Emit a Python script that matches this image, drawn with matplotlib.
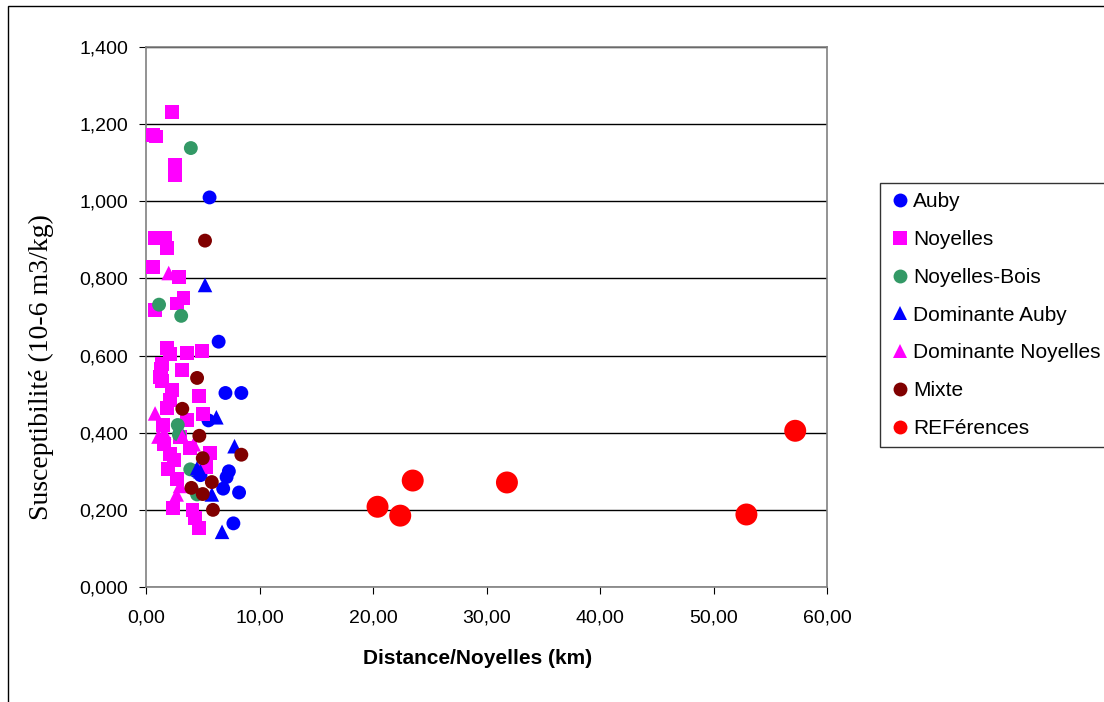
import matplotlib
matplotlib.use("Agg")
import matplotlib.pyplot as plt
from matplotlib.lines import Line2D
from matplotlib.patches import Rectangle

# ---------------- data ----------------
auby_x = [5.6, 6.4, 7.0, 8.4, 5.5, 7.3, 7.1, 6.8, 8.2, 7.7, 4.8, 4.4]
auby_y = [1.010, 0.636, 0.503, 0.503, 0.432, 0.300, 0.285, 0.255, 0.245, 0.165, 0.290, 0.300]

noy_x = [2.3, 0.6, 0.9, 2.55, 2.55, 0.8, 1.65, 1.85, 0.6, 2.9, 3.3, 2.7, 0.8, 1.85, 2.1,
         3.6, 4.9, 1.4, 1.3, 3.2, 1.2, 1.4, 2.3, 4.7, 2.1, 5.0, 1.85, 1.5, 3.6, 1.6, 2.1,
         3.9, 5.6, 5.3, 1.9, 2.7, 2.4, 4.1, 4.3, 4.7, 3.0, 2.5]
noy_y = [1.232, 1.172, 1.168, 1.095, 1.068, 0.905, 0.905, 0.880, 0.830, 0.804, 0.749, 0.735,
         0.718, 0.620, 0.605, 0.607, 0.612, 0.578, 0.565, 0.562, 0.545, 0.535, 0.510, 0.495,
         0.485, 0.448, 0.465, 0.420, 0.433, 0.370, 0.345, 0.360, 0.347, 0.310, 0.305, 0.280,
         0.205, 0.200, 0.180, 0.153, 0.390, 0.330]

bois_x = [3.95, 1.15, 3.1, 2.8, 2.9, 3.9, 4.5]
bois_y = [1.138, 0.732, 0.703, 0.420, 0.395, 0.305, 0.240]

domA_x = [5.2, 6.2, 7.8, 4.5, 5.8, 6.7, 4.8]
domA_y = [0.783, 0.440, 0.365, 0.308, 0.240, 0.143, 0.300]

domN_x = [2.0, 0.8, 1.1, 3.2, 4.2, 2.7, 3.0, 1.6]
domN_y = [0.814, 0.450, 0.390, 0.390, 0.370, 0.240, 0.262, 0.400]

mix_x = [5.2, 4.5, 3.2, 4.7, 5.0, 8.4, 4.0, 5.8, 5.0, 5.9]
mix_y = [0.898, 0.542, 0.462, 0.392, 0.334, 0.343, 0.257, 0.272, 0.241, 0.200]

ref_x = [20.4, 22.4, 23.5, 31.8, 52.9, 57.2]
ref_y = [0.208, 0.185, 0.276, 0.271, 0.188, 0.405]

series_names = ["Auby", "Noyelles", "Noyelles-Bois", "Dominante Auby",
                "Dominante Noyelles", "Mixte", "REFérences"]

x_ticks = [0, 10, 20, 30, 40, 50, 60]
y_ticks = [0.0, 0.2, 0.4, 0.6, 0.8, 1.0, 1.2, 1.4]

# ---------------- figure ----------------
plt.rcParams['font.family'] = ['Liberation Sans', 'DejaVu Sans']
fig = plt.figure(figsize=(11.04, 7.02), dpi=100)
W, H = 1104, 702
ax = fig.add_axes([146 / W, 1 - 587 / H, (827 - 146) / W, (587 - 47) / H])

# chart-area frame (only left/top visible)
fig.patches.append(Rectangle((8 / W, -0.05), 1.2, 1 - 6 / H + 0.05, transform=fig.transFigure,
                             fill=False, edgecolor='black', linewidth=1.0))

for y in y_ticks:
    ax.axhline(y, color='black', linewidth=1.0, zorder=1)

specs = [
    (auby_x, auby_y, 'o', '#0000FF', 100),
    (noy_x, noy_y, 's', '#FF00FF', 100),
    (bois_x, bois_y, 'o', '#339966', 100),
    (domA_x, domA_y, '^', '#0000FF', 110),
    (domN_x, domN_y, '^', '#FF00FF', 110),
    (mix_x, mix_y, 'o', '#800000', 100),
    (ref_x, ref_y, 'o', '#FF0000', 250),
]
for i, (xs, ys, m, c, s) in enumerate(specs):
    ax.scatter(xs, ys, marker=m, s=s, color=c, edgecolors='none', zorder=3 + i)

ax.set_xlim(0, 60)
ax.set_ylim(0, 1.4)
ax.set_xticks(x_ticks)
ax.set_yticks(y_ticks)
ax.set_xticklabels([f"{v:.2f}".replace('.', ',') for v in x_ticks], fontsize=14)
ax.set_yticklabels([f"{v:.3f}".replace('.', ',') for v in y_ticks], fontsize=14)
ax.tick_params(direction='out', length=5, color='black')
ax.tick_params(axis='x', pad=11)
ax.tick_params(axis='y', pad=8)
for sp in ax.spines.values():
    sp.set_color('#808080')
    sp.set_linewidth(1.2)

ax.set_xlabel("Distance/Noyelles (km)", fontsize=15, fontweight='bold')
ax.xaxis.set_label_coords((478 - 146) / (827 - 146), (587 - 659) / 540)
ax.xaxis.label.set_va('center')
ax.set_ylabel("Susceptibilité (10-6 m3/kg)", fontsize=20, family=['Liberation Serif', 'DejaVu Serif'])
ax.yaxis.set_label_coords((41 - 146) / 681, (587 - 367) / 540)
ax.yaxis.label.set_va('center')

handles = []
for name, (xs, ys, m, c, s) in zip(series_names, specs):
    handles.append(Line2D([], [], marker=m, linestyle='none', color=c, markersize=10,
                          markeredgewidth=0))
leg = fig.legend(handles, series_names, loc='upper left', bbox_to_anchor=(880 / W, 1 - 183 / H),
                 bbox_transform=fig.transFigure, fontsize=15, frameon=True, fancybox=False,
                 edgecolor='black', borderpad=0.45, labelspacing=0.9, handletextpad=0.15,
                 handlelength=1.0, borderaxespad=0)
leg.get_frame().set_linewidth(1.0)

fig.savefig("out.png", dpi=100, facecolor='white')
